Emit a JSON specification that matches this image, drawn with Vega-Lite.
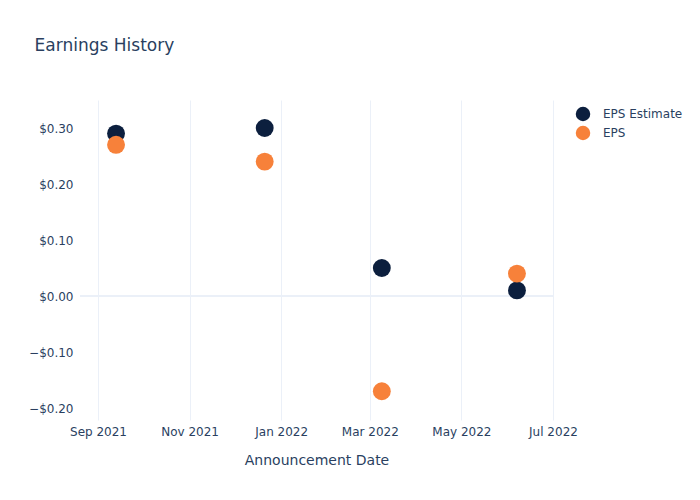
{
  "$schema": "https://vega.github.io/schema/vega-lite/v6.json",
  "width": 473,
  "height": 320,
  "autosize": "none",
  "padding": {"left": 80, "top": 100, "right": 147, "bottom": 80},
  "background": "white",
  "config": {
    "font": "DejaVu Sans",
    "view": {"stroke": null},
    "axis": {"domain": false, "ticks": false, "gridColor": "#EBF0F8", "gridWidth": 1, "labelColor": "#2a3f5f", "labelFontSize": 12, "titleColor": "#2a3f5f", "titleFontWeight": "normal"}
  },
  "title": {"text": "Earnings History", "anchor": "start", "dx": 6, "offset": 45, "fontSize": 17, "fontWeight": "normal", "color": "#2a3f5f"},
  "data": {"values": [
    {"date": "2021-09-13", "series": "EPS Estimate", "value": 0.29},
    {"date": "2021-12-21", "series": "EPS Estimate", "value": 0.30},
    {"date": "2022-03-09", "series": "EPS Estimate", "value": 0.05},
    {"date": "2022-06-07", "series": "EPS Estimate", "value": 0.01},
    {"date": "2021-09-13", "series": "EPS", "value": 0.27},
    {"date": "2021-12-21", "series": "EPS", "value": 0.24},
    {"date": "2022-03-09", "series": "EPS", "value": -0.17},
    {"date": "2022-06-07", "series": "EPS", "value": 0.04}
  ]},
  "layer": [
    {
      "mark": {"type": "rule", "color": "#EBF0F8", "strokeWidth": 2},
      "encoding": {"y": {"datum": 0, "type": "quantitative"}}
    },
    {
      "mark": {"type": "point", "filled": true, "opacity": 1, "size": 320, "shape": "circle"},
      "encoding": {
        "x": {
          "field": "date", "type": "temporal",
          "scale": {"type": "utc", "domain": ["2021-08-20", "2022-07-01"], "nice": false},
          "axis": {"title": "Announcement Date", "titleFontSize": 14, "titlePadding": 16, "labelPadding": 6, "format": "%b %Y", "labelFlush": false,
            "values": ["2021-09-01", "2021-11-01", "2022-01-01", "2022-03-01", "2022-05-01", "2022-07-01"]}
        },
        "y": {
          "field": "value", "type": "quantitative",
          "scale": {"domain": [-0.2214, 0.35], "nice": false, "zero": false},
          "axis": {"title": null, "format": "$.2f", "values": [-0.2, -0.1, 0, 0.1, 0.2, 0.3], "labelPadding": 7}
        },
        "color": {
          "field": "series", "type": "nominal",
          "scale": {"domain": ["EPS Estimate", "EPS"], "range": ["#0c1f3e", "#f7813a"]},
          "legend": {"title": null, "orient": "none", "legendX": 495, "legendY": 6, "symbolType": "circle", "symbolSize": 210, "symbolOpacity": 1, "labelFontSize": 12, "labelColor": "#2a3f5f", "rowPadding": 3, "labelOffset": 12}
        },
        "order": {"field": "series", "sort": "descending"}
      }
    }
  ]
}
